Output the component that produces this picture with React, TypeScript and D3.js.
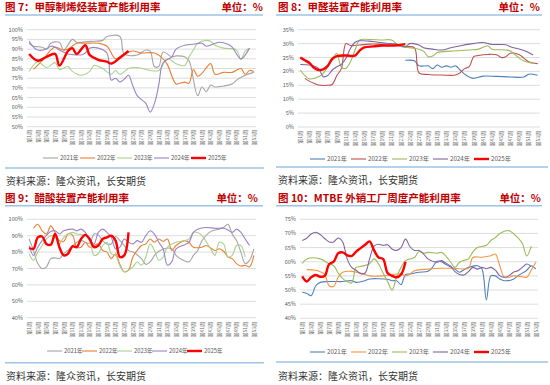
import React, { useEffect, useRef } from "react";
import * as d3 from "d3";

type Pt = [number, number];

const years = ["2021年", "2022年", "2023年", "2024年", "2025年"];
const weekTicks = [1, 3, 5, 7, 9, 11, 13, 15, 17, 19, 21, 23, 25, 27, 29, 31, 33, 35, 37, 39, 41, 43, 45, 47, 49, 51, 53];
const source = "资料来源：隆众资讯，长安期货";

// 图7 甲醇制烯烃
const olefin2021: Pt[] = [[1,93],[2,91.5],[4,91],[5,90],[6,93],[8,93.5],[9,89.5],[11,95],[12,93.5],[15,94],[18,94.5],[19,96.5],[22,96.5],[23,87.5],[26,87],[28,89.5],[29,89],[30,81],[31,81],[32,88.5],[34,86],[35,86.5],[37,86],[38,84],[40,66],[41,70.5],[42,68],[43,71.5],[44,70.5],[46,71],[48,72],[49,74],[51,76.5],[53,78]];
const olefin2022: Pt[] = [[2,79.5],[4,84],[6,89.5],[7,91],[9,89.5],[10,90],[12,93],[14,93],[17,93],[19,91.5],[21,85],[23,87.5],[25,89],[27,88],[30,88],[32,85],[33,82],[35,72],[36,72.5],[37,73],[38,72.5],[39,79.5],[40,76],[41,77.5],[43,82.5],[44,77],[46,78],[48,78],[50,80],[51,77],[52,79],[53,78.5]];
const olefin2023: Pt[] = [[1,78.5],[3,83.5],[5,80.5],[7,83],[8,79.5],[10,81],[11,78.5],[13,76.5],[15,78.5],[16,81.5],[18,80],[20,77],[21,79],[22,77],[24,80],[26,80.5],[29,79],[31,79],[33,85],[35,82.5],[37,81.5],[38,86],[39,89.5],[40,93],[42,94.5],[43,94],[44,92],[46,90.5],[47,90.3],[49,89.5],[50,84.5],[51,89],[52,90.5]];
const olefin2024: Pt[] = [[1,94],[2,91],[3,89.5],[5,90],[6,91.5],[7,91],[8,89.5],[10,87.5],[12,87],[13,87],[14,88],[15,90.5],[17,90.5],[19,88],[20,74],[21,75],[22,73],[23,74.5],[24,76.5],[25,71],[26,66],[28,62],[29,57.5],[30,62],[31,71.5],[32,83],[34,86],[35,90],[37,92],[39,92.5],[41,93],[42,91.5],[44,93],[45,93.5],[47,92.5],[48,91],[50,85],[52,90.5]];
const olefin2025: Pt[] = [[1,87.5],[3,84],[5,86],[7,87.5],[8,81.5],[10,89],[11,90.5],[12,87.5],[14,92],[15,87],[17,84.5],[19,83.5],[20,82.5],[22,85.5],[24,89]];

// 图8 甲醛
const hcho2021: Pt[] = [[24,24],[26,23.8],[27,22],[29,22],[30,21],[31,22.3],[32,21.5],[33,22],[34,21.5],[35,22],[36,20.5],[37,19],[38,18],[39,17.5],[41,18.3],[44,18.2],[47,18],[50,18],[51,19],[53,18.6]];
const hcho2022: Pt[] = [[2,17.5],[3,16.5],[4,15.7],[5,15.1],[7,15],[8,15.3],[9,18.5],[10,21],[11,30],[12,29.3],[14,29.5],[16,29.8],[18,29.8],[20,29.5],[22,29.2],[24,28.9],[26,28.5],[27,19.5],[29,18.9],[32,18.7],[35,18.7],[36,19.5],[37,21],[38,21.7],[39,25.3],[40,25.7],[42,26.1],[44,26],[45,25],[46,25.3],[47,26.5],[49,26],[50,24.7],[51,23.5],[53,22.8]];
const hcho2023: Pt[] = [[1,20.5],[2,18.5],[3,17.3],[5,18.1],[6,19.3],[8,24.1],[9,26.5],[10,21.5],[11,21.1],[12,23.5],[13,27.7],[14,31.3],[16,31.5],[19,31.3],[21,31.3],[22,30],[23,29],[25,28.5],[27,28],[28,27.3],[29,25.3],[30,25.5],[31,26.8],[34,27.3],[38,27.7],[40,28],[42,29.2],[43,28],[46,27.7],[47,27.3],[49,24.7],[50,23.7],[52,22.9]];
const hcho2024: Pt[] = [[1,22.5],[3,22.3],[5,21.1],[6,18.1],[7,18.5],[8,20.5],[9,21.7],[10,22.5],[11,24.7],[12,28.3],[13,30.5],[14,31],[16,30.9],[18,30.5],[20,30.1],[22,29.8],[24,28.9],[25,30],[27,29.5],[28,28.5],[30,28],[32,27.7],[34,28.5],[36,29.2],[38,29.8],[41,30.4],[43,29.7],[46,29.6],[47,28.9],[50,27.5],[52,25.9]];
const hcho2025: Pt[] = [[1,25],[2,24],[3,23],[4,21.3],[5,20.5],[6,20.7],[7,22],[8,24.5],[9,25.5],[11,25.7],[13,25.7],[14,27.5],[15,28.6],[17,29],[19,29.3],[21,29.3],[22,29.4],[24,29.8]];

// 图9 醋酸
const acetic2021: Pt[] = [[1,88],[2,81],[3,73],[4,70],[5,71],[6,76],[7,76.5],[8,76],[9,79],[10,81],[11,83.5],[12,86],[13,87],[15,85.5],[16,91],[17,90.5],[18,87],[19,85],[20,85],[21,89.5],[22,87],[23,84],[24,81],[25,80],[27,76],[28,72.5],[29,74],[30,78],[31,80.5],[33,82.5],[34,82],[35,78],[36,76],[38,74],[39,78],[40,81],[41,87],[43,92.5],[45,94],[46,95],[47,97],[48,91],[49,87],[50,80],[51,73],[52,75],[53,82]];
const acetic2022: Pt[] = [[2,94.5],[3,97],[4,93],[5,91],[6,96],[7,92],[8,87],[9,86.5],[10,91],[11,90.5],[12,83],[13,83],[14,86],[15,83],[16,84],[17,85],[18,81],[19,80],[20,76],[21,79],[22,72.5],[23,68],[24,69],[25,77],[26,81],[27,84],[28,85],[29,88],[30,86],[31,88],[32,86.5],[33,88],[34,81],[35,84],[37,87],[38,86],[39,83],[41,83],[42,84],[44,81],[45,82],[46,80.5],[47,77],[48,76],[49,73],[50,71.5],[51,72],[52,71],[53,78]];
const acetic2023: Pt[] = [[1,79],[2,75],[3,80],[4,84],[5,88],[6,90],[7,89],[8,85],[9,89],[11,92],[12,91],[14,90],[15,88],[16,78],[17,79],[18,84],[19,86],[20,79],[21,78],[22,71.5],[23,68],[24,69],[25,71],[26,74],[27,72],[28,77],[29,85],[30,81],[31,75],[32,77],[33,83],[35,86],[37,87],[38,88],[39,92],[40,92],[41,90],[43,82],[44,78],[45,86],[46,85],[47,77],[48,78],[49,84],[50,84],[51,77]];
const acetic2024: Pt[] = [[1,84],[2,78],[3,83],[4,87],[6,92.5],[7,93],[8,91],[9,93],[11,94],[12,93],[13,94],[14,92],[15,87],[16,85],[17,92],[18,94],[19,92],[20,89],[21,82],[22,83],[23,88],[24,86],[25,85],[26,87],[27,86],[28,90],[29,93],[30,91],[31,86],[32,82],[33,72],[34,74],[35,82],[37,84.5],[38,86],[39,92],[40,94],[42,95],[44,94.5],[46,94.5],[47,93.5],[48,92],[49,94],[50,92],[51,88],[52,84]];
const acetic2025: Pt[] = [[1,82.5],[2,82],[3,89],[4,89.5],[5,85],[6,84.5],[7,91],[8,83],[9,78],[10,79],[11,83.5],[12,83],[13,88],[14,90.5],[15,88],[16,83],[17,84],[18,88],[19,89],[20,90],[21,87],[22,77],[23,78],[24,92]];

// 图10 MTBE
const mtbe2021: Pt[] = [[1,49.2],[2,48.8],[3,48],[4,51.5],[5,52.7],[7,53],[10,53],[12,53.3],[13,52.7],[15,53.3],[16,53.9],[18,54],[20,53.8],[21,53.3],[22,53.3],[23,51.9],[24,55.5],[25,55.7],[27,56.3],[29,56.6],[30,58],[31,60.2],[32,60],[33,59],[35,57.4],[36,56.3],[37,57.2],[38,58],[40,58.6],[41,57.5],[42,46.5],[43,55],[44,55],[45,53.9],[46,53.3],[48,53.8],[49,55],[51,57],[52,58.6],[53,57.4]];
const mtbe2022: Pt[] = [[2,57.2],[4,57],[5,56.5],[6,55.5],[7,51.5],[8,51.3],[9,54.5],[10,56.3],[12,56.6],[14,56],[16,55],[19,55],[21,55.4],[23,55.7],[24,55],[25,55.7],[26,56.8],[29,57.4],[32,57.7],[35,57.7],[38,57.7],[39,61.5],[41,61.6],[43,62.1],[44,62.7],[45,58.5],[46,54.5],[47,54.5],[48,55],[50,54.7],[51,54.5],[52,57],[53,59.8]];
const mtbe2023: Pt[] = [[1,59.4],[2,61],[5,61],[7,59.2],[8,58.6],[9,56],[10,54],[11,53],[12,52.5],[13,58],[14,58.3],[16,59.3],[17,61],[18,59.2],[19,56],[20,53],[21,50],[22,54.5],[23,58],[24,60.4],[26,61.5],[27,63.6],[28,63],[29,63.3],[31,63],[32,63.3],[33,62],[34,60],[35,58],[36,59.8],[37,60.5],[38,61],[39,63.5],[40,65],[42,65.8],[43,67.5],[44,68.5],[45,70],[47,71],[48,70],[49,68.5],[50,66.5],[51,62],[52,65.5]];
const mtbe2024: Pt[] = [[1,67.5],[2,68.3],[3,69.8],[4,70.4],[5,69.6],[6,68.2],[7,67],[8,67],[9,68.4],[10,67],[11,61],[12,58],[13,57],[14,55.8],[15,56],[16,61],[17,65.5],[18,66.2],[19,65.8],[20,66],[21,64.5],[22,64],[23,65],[24,68],[25,65.3],[26,64],[27,64],[28,62.8],[29,61],[31,59.8],[32,60.4],[33,59.5],[34,58.5],[35,56.5],[36,55.5],[37,55.3],[38,56.5],[39,58],[40,57.4],[41,58],[42,57.5],[43,58],[44,57],[45,55],[46,54.5],[47,55],[48,56.3],[49,56.8],[50,58],[51,59.2],[52,58.3]];
const mtbe2025: Pt[] = [[1,54.8],[2,53],[3,54.5],[4,55.3],[5,54.7],[6,55],[7,59.2],[8,60],[9,63],[10,63.3],[11,62.3],[12,62],[13,63.6],[14,64.8],[15,66],[16,67.2],[17,64],[18,61.5],[19,61],[20,56],[21,55],[22,54.5],[23,55.5],[24,60]];

const warmColors = ["#A5A5A5", "#ED7D31", "#A9D18E", "#9A85C4", "#FF0000"];
const hchoColors = ["#4F81BD", "#C0504D", "#9BBB59", "#8064A2", "#FF0000"];
const mtbeColors = ["#4F81BD", "#F79646", "#9BBB59", "#8064A2", "#FF0000"];

interface Panel {
  title: string;
  titleX: number;
  titleY: number;
  unitRight: number;
  ruleY: number;
  ruleX: [number, number];
  x0: number;
  x1: number;
  yTop: number;
  yBottom: number;
  yDomain: [number, number];
  yTicks: number[];
  tickTop: number;
  legendX: number;
  legendStep: number;
  legendY: number;
  legendFont: number;
  sepY: number;
  sepX: [number, number];
  srcX: number;
  srcY: number;
  colors: string[];
  series: Pt[][];
}

const panels: Panel[] = [
  {
    title: "图 7：甲醇制烯烃装置产能利用率",
    titleX: 5, titleY: 11, unitRight: 263, ruleY: 15, ruleX: [5, 263],
    x0: 27, x1: 256, yTop: 29.7, yBottom: 126.7, yDomain: [50, 100],
    yTicks: [50, 55, 60, 65, 70, 75, 80, 85, 90, 95, 100], tickTop: 130,
    legendX: 43, legendStep: 37, legendY: 158, legendFont: 5.8,
    sepY: 168, sepX: [5, 264], srcX: 6, srcY: 185,
    colors: warmColors,
    series: [olefin2021, olefin2022, olefin2023, olefin2024, olefin2025],
  },
  {
    title: "图 8：甲醛装置产能利用率",
    titleX: 278, titleY: 11, unitRight: 540, ruleY: 15, ruleX: [276, 542],
    x0: 298, x1: 540, yTop: 29.7, yBottom: 127, yDomain: [0, 35],
    yTicks: [0, 5, 10, 15, 20, 25, 30, 35], tickTop: 131,
    legendX: 310, legendStep: 41, legendY: 159, legendFont: 6.2,
    sepY: 167, sepX: [276, 548], srcX: 278, srcY: 184,
    colors: hchoColors,
    series: [hcho2021, hcho2022, hcho2023, hcho2024, hcho2025],
  },
  {
    title: "图 9：醋酸装置产能利用率",
    titleX: 5, titleY: 201.5, unitRight: 258, ruleY: 205.7, ruleX: [5, 263],
    x0: 27, x1: 256, yTop: 219.3, yBottom: 317.7, yDomain: [40, 100],
    yTicks: [40, 50, 60, 70, 80, 90, 100], tickTop: 322,
    legendX: 47, legendStep: 35, legendY: 351, legendFont: 5.8,
    sepY: 362.7, sepX: [5, 264], srcX: 6, srcY: 380,
    colors: warmColors,
    series: [acetic2021, acetic2022, acetic2023, acetic2024, acetic2025],
  },
  {
    title: "图 10：MTBE 外销工厂周度产能利用率",
    titleX: 278, titleY: 201.5, unitRight: 541, ruleY: 205.7, ruleX: [276, 542],
    x0: 300, x1: 538, yTop: 219.3, yBottom: 318.3, yDomain: [40, 75],
    yTicks: [40, 45, 50, 55, 60, 65, 70, 75], tickTop: 322,
    legendX: 310, legendStep: 41, legendY: 352, legendFont: 6.2,
    sepY: 362, sepX: [276, 548], srcX: 278, srcY: 380,
    colors: mtbeColors,
    series: [mtbe2021, mtbe2022, mtbe2023, mtbe2024, mtbe2025],
  },
];

const FONT = "'Noto Sans CJK SC', 'Noto Sans', sans-serif";

function drawPanel(svg: d3.Selection<SVGSVGElement, unknown, null, undefined>, p: Panel) {
  const g = svg.append("g");
  const bw = (p.x1 - p.x0) / 53;
  const x = d3.scaleLinear().domain([1, 53]).range([p.x0 + bw / 2, p.x1 - bw / 2]);
  const y = d3.scaleLinear().domain(p.yDomain).range([p.yBottom, p.yTop]);

  // title + unit
  g.append("text")
    .attr("x", p.titleX)
    .attr("y", p.titleY)
    .attr("fill", "#C00000")
    .attr("font-weight", "bold")
    .attr("font-size", 10.5)
    .style("white-space", "pre")
    .text(p.title);
  g.append("text")
    .attr("x", p.unitRight)
    .attr("y", p.titleY)
    .attr("text-anchor", "end")
    .attr("fill", "#C00000")
    .attr("font-weight", "bold")
    .attr("font-size", 10.5)
    .text("单位：%");
  g.append("line")
    .attr("x1", p.ruleX[0])
    .attr("x2", p.ruleX[1])
    .attr("y1", p.ruleY)
    .attr("y2", p.ruleY)
    .attr("stroke", "#9DC3E6")
    .attr("stroke-width", 1.5);

  // grid + y labels
  p.yTicks.forEach((t) => {
    g.append("line")
      .attr("x1", p.x0)
      .attr("x2", p.x1)
      .attr("y1", y(t))
      .attr("y2", y(t))
      .attr("stroke", "#D9D9D9")
      .attr("stroke-width", 0.9);
    g.append("text")
      .attr("x", p.x0 - 4)
      .attr("y", y(t) + 2)
      .attr("text-anchor", "end")
      .attr("font-size", 5.6)
      .attr("fill", "#595959")
      .text(`${t}%`);
  });

  // week labels, rotated
  weekTicks.forEach((w) => {
    g.append("text")
      .attr("transform", `translate(${x(w) + 1.8},${p.tickTop}) rotate(-90)`)
      .attr("text-anchor", "end")
      .attr("font-size", 5)
      .attr("fill", "#6b6b6b")
      .text(`第${w}周`);
  });

  // series lines (2025 drawn last, thicker)
  const line = d3
    .line<Pt>()
    .x((d) => x(d[0]))
    .y((d) => y(d[1]))
    .curve(d3.curveCatmullRom.alpha(0.5));
  p.series.forEach((s, i) => {
    g.append("path")
      .attr("d", line(s))
      .attr("fill", "none")
      .attr("stroke", p.colors[i])
      .attr("stroke-width", i === 4 ? 2.4 : 1.1)
      .attr("stroke-linejoin", "round");
  });

  // legend
  years.forEach((yr, i) => {
    const lx = p.legendX + i * p.legendStep;
    g.append("line")
      .attr("x1", lx)
      .attr("x2", lx + 15)
      .attr("y1", p.legendY)
      .attr("y2", p.legendY)
      .attr("stroke", p.colors[i])
      .attr("stroke-width", i === 4 ? 2.4 : 1.1);
    g.append("text")
      .attr("x", lx + 17)
      .attr("y", p.legendY + p.legendFont * 0.36)
      .attr("font-size", p.legendFont)
      .attr("fill", "#595959")
      .text(yr);
  });

  // separator + source
  g.append("line")
    .attr("x1", p.sepX[0])
    .attr("x2", p.sepX[1])
    .attr("y1", p.sepY)
    .attr("y2", p.sepY)
    .attr("stroke", "#9DC3E6")
    .attr("stroke-width", 1.5);
  g.append("text")
    .attr("x", p.srcX)
    .attr("y", p.srcY)
    .attr("font-size", 10)
    .attr("fill", "#333")
    .text(source);
}

const App: React.FC = () => {
  const ref = useRef<SVGSVGElement>(null);

  useEffect(() => {
    const svg = d3.select(ref.current!);
    svg.selectAll("*").remove();
    svg.append("rect").attr("width", 550).attr("height", 385).attr("fill", "#fff");
    panels.forEach((p) => drawPanel(svg, p));
  }, []);

  return (
    <svg
      ref={ref}
      width={550}
      height={385}
      style={{ position: "absolute", left: 0, top: 0, fontFamily: FONT }}
    />
  );
};

export default App;
